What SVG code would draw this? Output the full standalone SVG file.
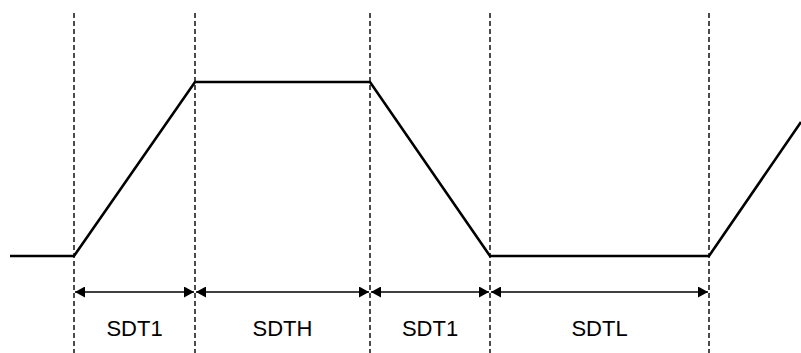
<svg xmlns="http://www.w3.org/2000/svg" width="801" height="353" viewBox="0 0 801 353">
<style>
.guide{stroke:#000;stroke-width:1.4;stroke-dasharray:5 3;fill:none}
.wave{stroke:#000;stroke-width:2.6;fill:none;stroke-linejoin:miter}
.dim{stroke:#000;stroke-width:1.3;fill:none}
.lbl{font-family:"Liberation Sans",Arial,sans-serif;font-size:22px;fill:#000;text-anchor:middle}
</style>
<defs>
<marker id="ah" viewBox="0 0 10 11" refX="10" refY="5.5" markerWidth="10" markerHeight="11" markerUnits="userSpaceOnUse" orient="auto-start-reverse">
<path d="M0,0 L10,5.5 L0,11 z" fill="#000"/>
</marker>
</defs>
<rect width="801" height="353" fill="#fff"/>
<g id="guides">
<line class="guide" x1="74" y1="13" x2="74" y2="353"/>
<line class="guide" x1="195" y1="13" x2="195" y2="353"/>
<line class="guide" x1="370" y1="13" x2="370" y2="353"/>
<line class="guide" x1="490" y1="13" x2="490" y2="353"/>
<line class="guide" x1="709" y1="13" x2="709" y2="353"/>
</g>
<g id="waveform">
<polyline class="wave" points="10,256 74,256 195,82 370,82 490,256 709,256 801,122"/>
</g>
<g id="connectors">
<line class="dim" x1="75" y1="292" x2="194" y2="292" marker-start="url(#ah)" marker-end="url(#ah)"/>
<line class="dim" x1="196" y1="292" x2="369" y2="292" marker-start="url(#ah)" marker-end="url(#ah)"/>
<line class="dim" x1="371" y1="292" x2="489" y2="292" marker-start="url(#ah)" marker-end="url(#ah)"/>
<line class="dim" x1="491" y1="292" x2="708" y2="292" marker-start="url(#ah)" marker-end="url(#ah)"/>
</g>
<g id="label-sdt1a"><text class="lbl" x="134.5" y="336">SDT1</text></g>
<g id="label-sdth"><text class="lbl" x="282.5" y="336">SDTH</text></g>
<g id="label-sdt1b"><text class="lbl" x="430" y="336">SDT1</text></g>
<g id="label-sdtl"><text class="lbl" x="599.5" y="336">SDTL</text></g>
</svg>
